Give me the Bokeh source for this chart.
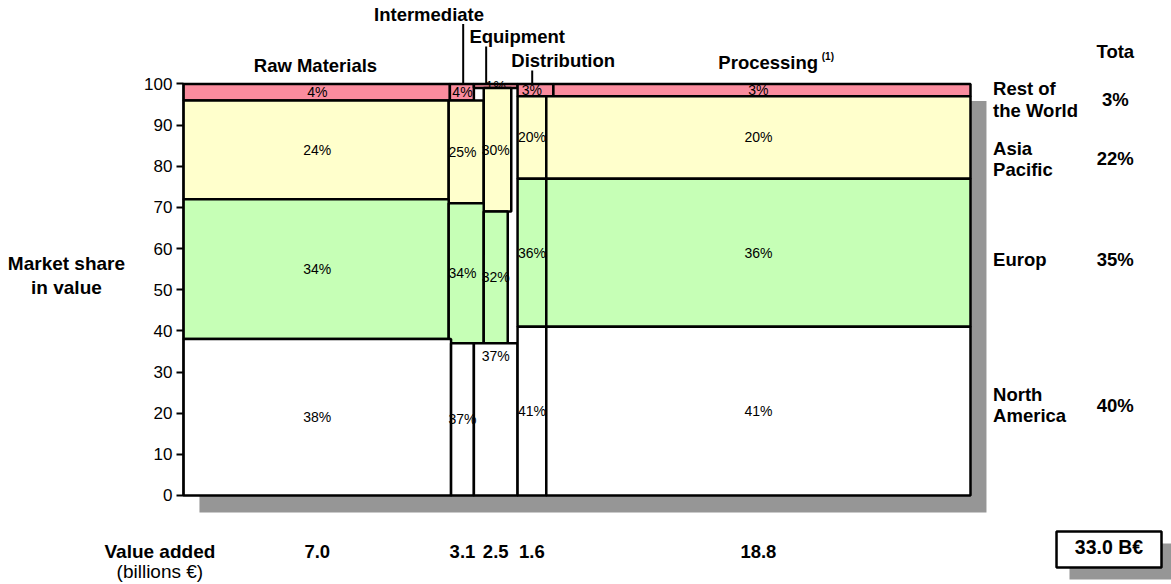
from bokeh.core.properties import value
from bokeh.embed import file_html
from bokeh.models import ColumnDataSource, FixedTicker, LinearAxis, Range1d
from bokeh.plotting import figure
from bokeh.resources import INLINE

# ---------------------------------------------------------------- data
stages = ["Raw Materials", "Intermediate", "Equipment", "Distribution", "Processing"]
value_added = [7.0, 3.1, 2.5, 1.6, 18.8]  # billions €

# market share (%) of every region inside each stage
share_north_america = [38, 37, 37, 41, 41]
share_europe = [34, 34, 32, 36, 36]
share_asia_pacific = [24, 25, 30, 20, 20]
share_rest_of_world = [4, 4, 1, 3, 3]

regions = ["North America", "Europe", "Asia Pacific", "Rest of the World"]
region_labels = [["North", "America"], ["Europ"], ["Asia", "Pacific"], ["Rest of", "the World"]]
total_share = [40, 35, 22, 3]

y_ticks = [0, 10, 20, 30, 40, 50, 60, 70, 80, 90, 100]

# ---------------------------------------------------------------- layout / style
FONT = "Liberation Sans"
COLORS = {
    "North America": "#FFFFFF",
    "Europe": "#C6FFB6",
    "Asia Pacific": "#FFFFCC",
    "Rest of the World": "#FA8C9E",
}
SHADOW = "#969696"

# horizontal extent of each block (chart width = 100)
SPANS = {
    "Rest of the World": [(0, 33.85), (33.85, 36.9), (36.9, 42.45), (42.45, 47.0), (47.0, 100)],
    "Asia Pacific": [(0, 33.7), (33.7, 38.15), (38.15, 41.65), (42.45, 46.1), (46.1, 100)],
    "Europe": [(0, 33.7), (33.7, 38.15), (38.15, 41.2), (42.45, 46.1), (46.1, 100)],
    "North America": [(0, 34.0), (34.0, 36.9), (36.9, 42.45), (42.45, 46.1), (46.1, 100)],
}
col_mid = [(a + b) / 2 for a, b in SPANS["North America"]]
label_nudge = {("Equipment", "North America"): "top"}

header_x = [16.77, 31.2, 42.4, 48.25, 74.3]
header_y = [104.5, 117.0, 111.5, 105.7, 105.3]
leader_x = [None, 35.54, 38.46, 44.31, None]

region_center_y = [21.96, 57.35, 81.8, 96.2]
LINE_STEP = 5.27

X0, X1 = -23.25, 125.54
Y0, Y1 = -21.63, 120.29
SHADOW_DX, SHADOW_DY = 2.03, 4.13

p = figure(
    width=1171, height=584,
    x_range=Range1d(X0, X1), y_range=Range1d(Y0, Y1),
    output_backend="svg", toolbar_location=None,
    x_axis_location=None, y_axis_location=None,
    min_border=0,
)
p.outline_line_color = None
p.grid.visible = False
p.background_fill_color = "white"
p.border_fill_color = "white"

# value axis pinned to the left edge of the chart body
ax = LinearAxis(fixed_location=0)
ax.bounds = (0, 100)
ax.ticker = FixedTicker(ticks=y_ticks)
ax.axis_line_width = 2
ax.major_tick_line_width = 2
ax.major_tick_out = 7
ax.major_tick_in = 0
ax.minor_tick_line_color = None
ax.major_label_text_font = FONT
ax.major_label_text_font_size = "17px"
ax.major_label_text_color = "black"
ax.major_label_standoff = 4
p.add_layout(ax, "left")

# drop shadow and white body of the chart
p.quad(left=[SHADOW_DX], right=[100 + SHADOW_DX], bottom=[-SHADOW_DY], top=[100 - SHADOW_DY],
       fill_color=SHADOW, line_color=None, level="underlay")
p.quad(left=[0], right=[100], bottom=[0], top=[100], fill_color="white", line_color=None,
       level="underlay")

shares = {
    "North America": share_north_america,
    "Europe": share_europe,
    "Asia Pacific": share_asia_pacific,
    "Rest of the World": share_rest_of_world,
}

# cumulative bottoms per stage
bottoms = {}
running = [0] * len(stages)
for r in regions:
    bottoms[r] = list(running)
    running = [a + b for a, b in zip(running, shares[r])]

# draw from the top band down so lower bands sit over the labels above them
for r in reversed(regions):
    lefts = [s[0] for s in SPANS[r]]
    rights = [s[1] for s in SPANS[r]]
    bot = bottoms[r]
    top = [b + s for b, s in zip(bot, shares[r])]
    p.quad(source=ColumnDataSource(dict(left=lefts, right=rights, bottom=bot, top=top)),
           left="left", right="right", bottom="bottom", top="top",
           fill_color=COLORS[r], line_color="black", line_width=2.5)
    ly = []
    for i, st in enumerate(stages):
        if label_nudge.get((st, r)) == "top":
            ly.append(top[i] - 3)
        else:
            ly.append((bot[i] + top[i]) / 2)
    p.text(source=ColumnDataSource(dict(x=col_mid, y=ly, t=[f"{v}%" for v in shares[r]])),
           x="x", y="y", text="t", text_align="center", text_baseline="middle",
           text_font=value(FONT), text_font_size="14px", text_color="black")

BOLD = dict(text_font=value(FONT), text_font_style="bold", text_color="black",
            text_baseline="middle")

# stage headers with leader lines
p.text(x=header_x, y=header_y, text=stages, text_align="center", text_font_size="18.5px", **BOLD)
p.text(x=[header_x[4] + 6.8], y=[header_y[4] + 1.4], text=["(1)"], text_align="left",
       text_font_size="10px", **BOLD)
lx = [x for x in leader_x if x is not None]
ly0 = [header_y[i] - 2.4 for i, x in enumerate(leader_x) if x is not None]
p.segment(x0=lx, x1=lx, y0=ly0, y1=[100] * len(lx), line_color="black", line_width=2)

# region names and totals on the right
name_x, name_y, name_t = [], [], []
for lines, cy in zip(region_labels, region_center_y):
    n = len(lines)
    for k, txt in enumerate(lines):
        name_x.append(102.87)
        name_y.append(cy + (n - 1) / 2 * LINE_STEP - k * LINE_STEP)
        name_t.append(txt)
p.text(x=name_x, y=name_y, text=name_t, text_align="left", text_font_size="18.5px", **BOLD)
p.text(x=[118.4] * len(total_share), y=region_center_y, text=[f"{v}%" for v in total_share],
       text_align="center", text_font_size="18.5px", **BOLD)
p.text(x=[118.4], y=[107.9], text=["Tota"], text_align="center", text_font_size="18.5px", **BOLD)

# value added row
p.text(x=col_mid, y=[-13.6] * len(stages), text=[f"{v:.1f}" for v in value_added],
       text_align="center", text_font_size="18.5px", **BOLD)

total_value = sum(value_added)
bx0, bx1, by0, by1 = 110.93, 124.27, -17.5, -8.75
p.quad(left=[bx0 + 1.65], right=[bx1 + 1.65], bottom=[by0 - 2.92], top=[by1 - 2.92],
       fill_color=SHADOW, line_color=None)
p.quad(left=[bx0], right=[bx1], bottom=[by0], top=[by1], fill_color="white",
       line_color="black", line_width=2.5)
p.text(x=[(bx0 + bx1) / 2], y=[-12.4], text=[f"{total_value:.1f} B€"], text_align="center",
       text_font_size="19.5px", **BOLD)

# texts left of the value axis
p.text(x=[-14.87, -14.87, -3.0], y=[56.45, 50.6, -13.6],
       text=["Market share", "in value", "Value added"], text_align="center",
       text_font_size="19px", **BOLD)
p.text(x=[-3.0], y=[-18.5], text=["(billions €)"], text_align="center",
       text_baseline="middle", text_font=value(FONT), text_font_size="19px",
       text_color="black")

open("out.html", "w").write(file_html(p, INLINE))
